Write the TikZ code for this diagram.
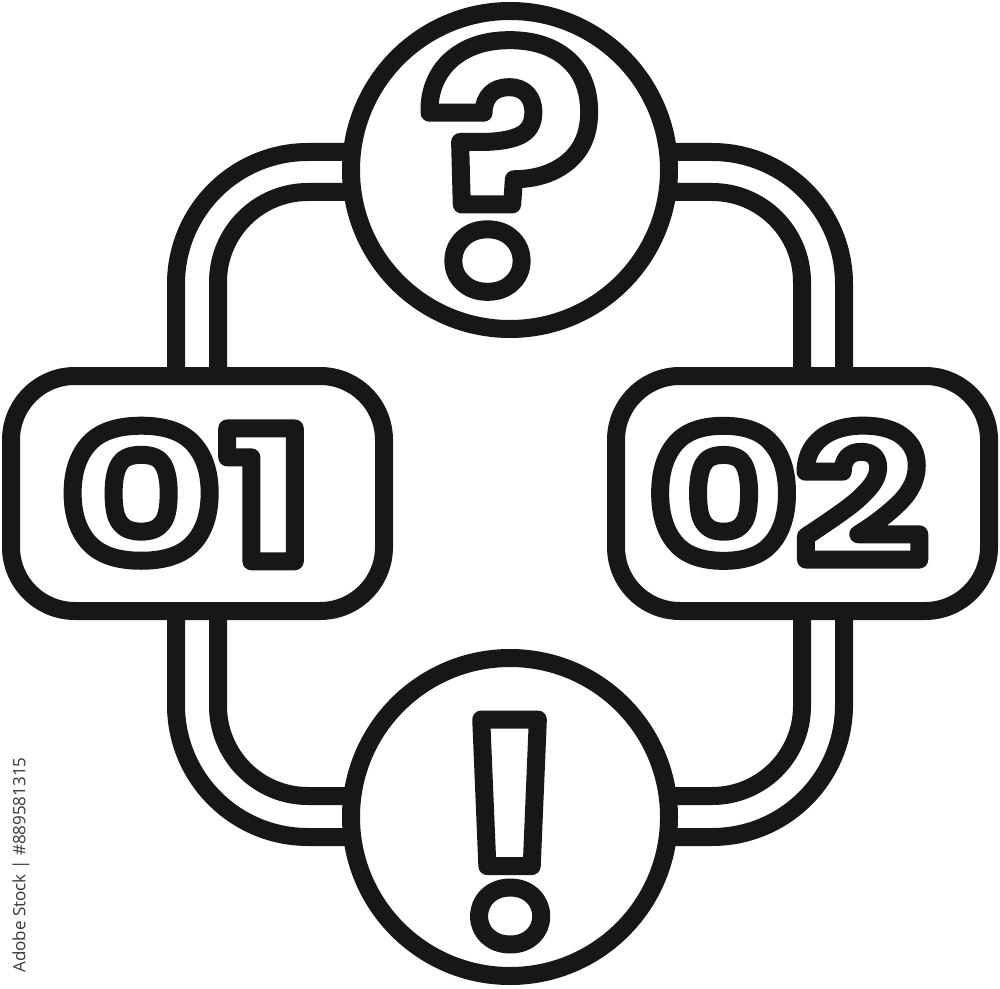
\documentclass[tikz,border=0pt]{standalone}
\usepackage{fontspec}
\newfontfamily\glyphfont{Poppins}
\newfontfamily\digitfont{Poppins}[FakeStretch=1.34]
\newfontfamily\digitfontb{Poppins}[FakeStretch=1.24]
\newfontfamily\markfont{Open Sans}
\usetikzlibrary{backgrounds,calc}
\definecolor{ink}{RGB}{22,24,23}
\definecolor{markgray}{RGB}{55,55,55}
\newcommand\outlined[1]{\special{pdf:literal direct 1 Tr 8.97 w 1 j 1 J}#1\special{pdf:literal direct 0 Tr}}
\begin{document}
\begin{tikzpicture}[x=0.5pt,y=-0.5pt,
  shapeline/.style={draw=ink, line width=9pt, fill=white, inner sep=0pt},
  roundbox/.style={shapeline, rectangle, rounded corners=32pt, minimum width=186.5pt, minimum height=117.5pt},
  ring/.style={shapeline, circle, minimum size=159pt},
  conn/.style={draw=ink, line width=9pt},
  outerconn/.style={conn, rounded corners=66pt},
  innerconn/.style={conn, rounded corners=45pt},
  glyph/.style={inner sep=0pt, text=ink}]
\useasboundingbox (0,0) rectangle (1000,989);
% shapes
\node[ring] (q) at (510,170) {};
\node[ring] (e) at (510,817) {};
\node[roundbox] (b1) at (197.5,493.5) {};
\node[roundbox] (b2) at (802.5,493.5) {};
% labels
\node[glyph, font=\glyphfont\bfseries\fontsize{168}{175}\selectfont] (tq) at (510.5,166) {\outlined{?}};
\node[glyph, font=\glyphfont\bfseries\fontsize{153}{160}\selectfont] (te) at (510,832) {\outlined{!}};
\node[glyph, font=\digitfont\bfseries\fontsize{91}{95}\selectfont] (t1) at (187,493.5) {\outlined{01}};
\node[glyph, font=\digitfontb\bfseries\fontsize{91}{95}\selectfont] (t2) at (788,493.5) {\outlined{02}};
% watermark caption
\node[rotate=90, text=markgray, font=\markfont\fontsize{8.5}{10}\selectfont, inner sep=0pt] (wm) at (21,865) {Adobe Stock | \#889581315};
% connectors
\begin{scope}[on background layer]
\draw[outerconn] ($(q.center)+(0,-18)$) -| ($(b1.center)+(-21.5,0)$);
\draw[innerconn] ($(q.center)+(0,22)$) -| ($(b1.center)+(20.5,0)$);
\draw[outerconn] ($(q.center)+(0,-18)$) -| ($(b2.center)+(41.5,0)$);
\draw[innerconn] ($(q.center)+(0,22)$) -| ($(b2.center)+(-0.5,0)$);
\draw[outerconn] ($(e.center)+(0,20)$) -| ($(b1.center)+(-21.5,0)$);
\draw[innerconn] ($(e.center)+(0,-21)$) -| ($(b1.center)+(20.5,0)$);
\draw[outerconn] ($(e.center)+(0,20)$) -| ($(b2.center)+(41.5,0)$);
\draw[innerconn] ($(e.center)+(0,-21)$) -| ($(b2.center)+(-0.5,0)$);
\end{scope}
\end{tikzpicture}
\end{document}
